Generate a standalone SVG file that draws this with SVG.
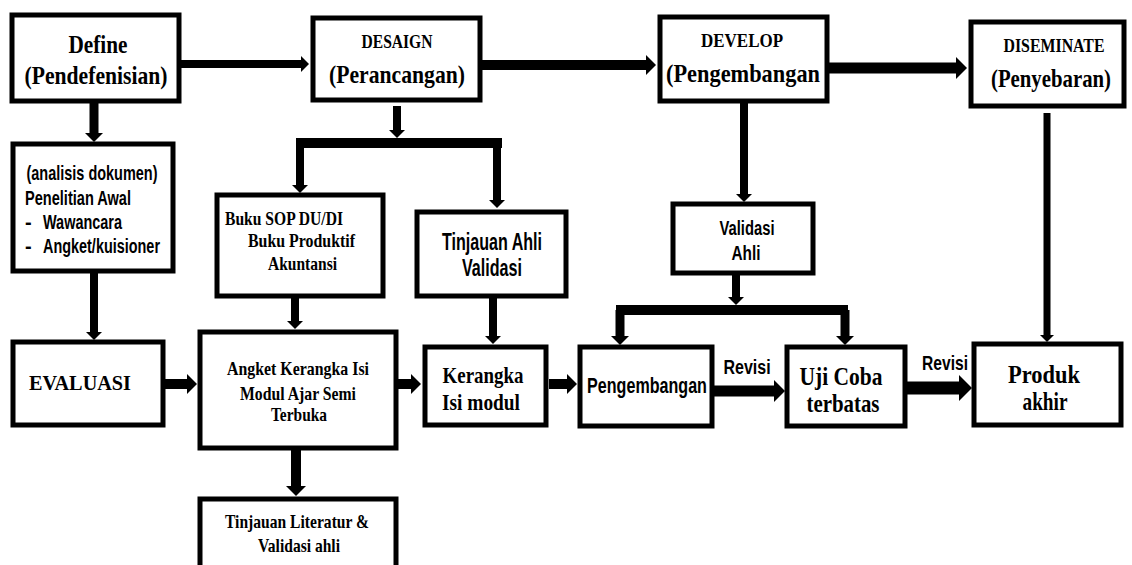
<svg xmlns="http://www.w3.org/2000/svg" width="1132" height="565" viewBox="0 0 1132 565">
<defs>
<marker id="ah" viewBox="0 0 10 10" refX="0" refY="5" markerWidth="1.0" markerHeight="2.0" orient="auto" preserveAspectRatio="none">
<path d="M0,0 L10,5 L0,10 z" fill="#000"/>
</marker>
</defs>
<style>
.box{fill:#fff;stroke:#000;stroke-width:5}
.c{stroke:#000;fill:none;stroke-linecap:butt}
.a{marker-end:url(#ah)}
.s{font-family:"Liberation Serif",serif;font-weight:bold;fill:#000}
.n{font-family:"Liberation Sans",sans-serif;font-weight:bold;fill:#000}
.m{text-anchor:middle}
</style>
<rect width="1132" height="565" fill="#fff"/>
<g id="connectors">
<line class="c a" x1="181" y1="64" x2="301" y2="64" stroke-width="8"/>
<line class="c a" x1="482" y1="65" x2="646" y2="65" stroke-width="10"/>
<line class="c a" x1="829" y1="68" x2="956" y2="68" stroke-width="11"/>
<line class="c a" x1="94" y1="103" x2="94" y2="133" stroke-width="9"/>
<line class="c a" x1="94" y1="272" x2="94" y2="332" stroke-width="8"/>
<line class="c a" x1="397" y1="106" x2="397" y2="130" stroke-width="8"/>
<line class="c" x1="296" y1="143" x2="502" y2="143" stroke-width="10"/>
<line class="c a" x1="300" y1="143" x2="300" y2="185" stroke-width="8"/>
<line class="c a" x1="497" y1="143" x2="497" y2="200" stroke-width="8"/>
<line class="c a" x1="295" y1="298" x2="295" y2="321" stroke-width="8"/>
<line class="c a" x1="493" y1="298" x2="493" y2="336" stroke-width="8"/>
<line class="c a" x1="165" y1="384" x2="187" y2="384" stroke-width="10"/>
<line class="c a" x1="398" y1="384" x2="411" y2="384" stroke-width="10"/>
<line class="c a" x1="549" y1="384" x2="567" y2="384" stroke-width="10"/>
<line class="c a" x1="296" y1="450" x2="296" y2="486" stroke-width="10"/>
<line class="c a" x1="744" y1="103" x2="744" y2="194" stroke-width="8"/>
<line class="c a" x1="736" y1="275" x2="736" y2="297" stroke-width="8"/>
<line class="c" x1="616" y1="310" x2="848" y2="310" stroke-width="10"/>
<line class="c a" x1="620" y1="310" x2="620" y2="336" stroke-width="9"/>
<line class="c a" x1="845" y1="310" x2="845" y2="336" stroke-width="9"/>
<line class="c a" x1="713" y1="391" x2="774" y2="391" stroke-width="11"/>
<line class="c a" x1="906" y1="388" x2="959" y2="388" stroke-width="13"/>
<line class="c a" x1="1047" y1="113" x2="1047" y2="335" stroke-width="7"/>
</g>
<g id="define">
<rect class="box" x="12" y="15" width="167" height="86"/>
<text class="s m" x="98" y="53" font-size="26" textLength="59" lengthAdjust="spacingAndGlyphs">Define</text>
<text class="s m" x="96" y="84" font-size="26" textLength="143" lengthAdjust="spacingAndGlyphs">(Pendefenisian)</text>
</g>
<g id="desaign">
<rect class="box" x="313" y="18" width="167" height="82"/>
<text class="s m" x="397" y="48" font-size="18" textLength="71" lengthAdjust="spacingAndGlyphs">DESAIGN</text>
<text class="s m" x="397" y="83" font-size="26" textLength="136" lengthAdjust="spacingAndGlyphs">(Perancangan)</text>
</g>
<g id="develop">
<rect class="box" x="660" y="17" width="167" height="84"/>
<text class="s m" x="742" y="47" font-size="18" textLength="82" lengthAdjust="spacingAndGlyphs">DEVELOP</text>
<text class="s m" x="743" y="82" font-size="26" textLength="154" lengthAdjust="spacingAndGlyphs">(Pengembangan</text>
</g>
<g id="diseminate">
<rect class="box" x="971" y="22" width="153" height="84"/>
<text class="s m" x="1054" y="52" font-size="18" textLength="101" lengthAdjust="spacingAndGlyphs">DISEMINATE</text>
<text class="s m" transform="translate(1051 87) scale(0.8 1)" x="0" y="0" font-size="26">(Penyebaran)</text>
</g>
<g id="analisis">
<rect class="box" x="13" y="144" width="160" height="127"/>
<text class="n m" x="92" y="180" font-size="21" textLength="131" lengthAdjust="spacingAndGlyphs">(analisis dokumen)</text>
<text class="n" x="25" y="205" font-size="20" textLength="106" lengthAdjust="spacingAndGlyphs">Penelitian Awal</text>
<text class="n" x="25" y="229" font-size="20">-</text>
<text class="n" x="43" y="229" font-size="20" textLength="79" lengthAdjust="spacingAndGlyphs">Wawancara</text>
<text class="n" x="25" y="253" font-size="20">-</text>
<text class="n" x="43" y="253" font-size="20" textLength="117" lengthAdjust="spacingAndGlyphs">Angket/kuisioner</text>
</g>
<g id="evaluasi">
<rect class="box" x="13" y="342" width="150" height="83"/>
<text class="s" x="29" y="390" font-size="21" textLength="102" lengthAdjust="spacingAndGlyphs">EVALUASI</text>
</g>
<g id="buku">
<rect class="box" x="217" y="195" width="166" height="101"/>
<text class="s" x="225" y="225" font-size="19" textLength="118" lengthAdjust="spacingAndGlyphs">Buku SOP DU/DI</text>
<text class="s" x="248" y="247" font-size="19" textLength="107" lengthAdjust="spacingAndGlyphs">Buku Produktif</text>
<text class="s" x="268" y="270" font-size="19" textLength="69" lengthAdjust="spacingAndGlyphs">Akuntansi</text>
</g>
<g id="tinjauan-ahli">
<rect class="box" x="417" y="212" width="149" height="84"/>
<text class="n m" x="492" y="250" font-size="24" textLength="100" lengthAdjust="spacingAndGlyphs">Tinjauan Ahli</text>
<text class="n m" x="492" y="276" font-size="24" textLength="60" lengthAdjust="spacingAndGlyphs">Validasi</text>
</g>
<g id="angket">
<rect class="box" x="200" y="332" width="196" height="116"/>
<text class="s m" x="298" y="375" font-size="19" textLength="142" lengthAdjust="spacingAndGlyphs">Angket Kerangka Isi</text>
<text class="s m" x="298" y="400" font-size="19" textLength="116" lengthAdjust="spacingAndGlyphs">Modul Ajar Semi</text>
<text class="s m" x="299" y="421" font-size="19" textLength="56" lengthAdjust="spacingAndGlyphs">Terbuka</text>
</g>
<g id="kerangka">
<rect class="box" x="425" y="347" width="121" height="78"/>
<text class="s m" x="483" y="383" font-size="24" textLength="81" lengthAdjust="spacingAndGlyphs">Kerangka</text>
<text class="s m" x="481" y="410" font-size="24" textLength="78" lengthAdjust="spacingAndGlyphs">Isi modul</text>
</g>
<g id="tinjauan-literatur">
<rect class="box" x="200" y="499" width="196" height="80"/>
<text class="s m" x="297" y="528" font-size="19" textLength="144" lengthAdjust="spacingAndGlyphs">Tinjauan Literatur &amp;</text>
<text class="s m" x="299" y="552" font-size="19" textLength="82" lengthAdjust="spacingAndGlyphs">Validasi ahli</text>
</g>
<g id="validasi-ahli">
<rect class="box" x="673" y="204" width="140" height="69"/>
<text class="n m" x="747" y="235" font-size="20" textLength="55" lengthAdjust="spacingAndGlyphs">Validasi</text>
<text class="n m" x="746" y="260" font-size="20" textLength="29" lengthAdjust="spacingAndGlyphs">Ahli</text>
</g>
<g id="pengembangan">
<rect class="box" x="580" y="347" width="132" height="79"/>
<text class="n m" transform="translate(647 393) scale(0.732 1)" x="0" y="0" font-size="22">Pengembangan</text>
</g>
<g id="revisi-labels">
<text class="n m" transform="translate(747 374) scale(0.8 1)" x="0" y="0" font-size="20">Revisi</text>
<text class="n m" x="945" y="370" font-size="21" textLength="46" lengthAdjust="spacingAndGlyphs">Revisi</text>
</g>
<g id="uji-coba">
<rect class="box" x="787" y="347" width="118" height="79"/>
<text class="s m" x="841" y="385" font-size="25" textLength="83" lengthAdjust="spacingAndGlyphs">Uji Coba</text>
<text class="s m" x="843" y="412" font-size="25" textLength="73" lengthAdjust="spacingAndGlyphs">terbatas</text>
</g>
<g id="produk">
<rect class="box" x="974" y="344" width="147" height="81"/>
<text class="s m" x="1044" y="383" font-size="25" textLength="72" lengthAdjust="spacingAndGlyphs">Produk</text>
<text class="s m" x="1045" y="410" font-size="25" textLength="45" lengthAdjust="spacingAndGlyphs">akhir</text>
</g>
</svg>
